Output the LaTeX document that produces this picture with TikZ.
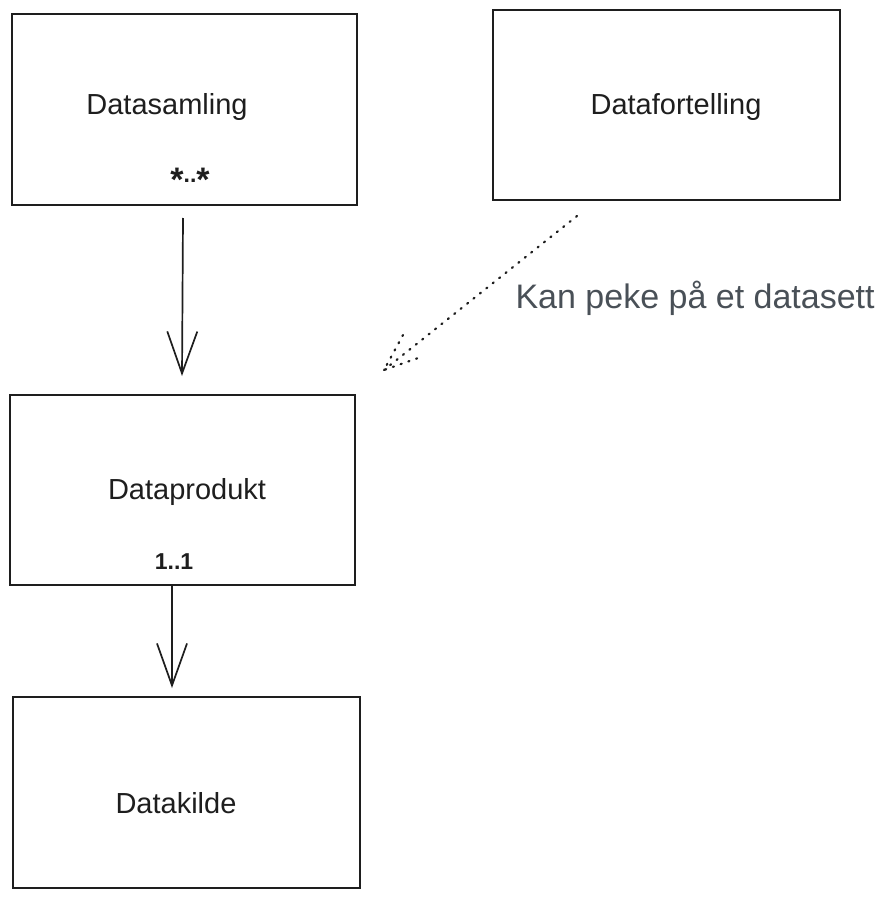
\documentclass[tikz,border=0pt]{standalone}
\usepackage{fontspec}
\setmainfont{Liberation Sans}
\usetikzlibrary{arrows.meta}
\definecolor{ink}{HTML}{1E1E1E}
\definecolor{note}{HTML}{495057}
\newcommand{\bigstar}{{\fontsize{34}{34}\selectfont\raisebox{-9pt}{*}}}
\tikzset{
  entity/.style={draw=ink, line width=1.5pt, inner sep=0pt},
  entitytext/.style={font=\fontsize{29}{34}\selectfont, text=ink},
  multiplicity/.style={font=\bfseries\fontsize{23}{27}\selectfont, text=ink},
  link/.style={draw=ink, line width=1.7pt, -{Straight Barb[length=42pt,width=30pt,line width=1.7pt]}},
  hint/.style={draw=ink, line width=2.2pt, dash pattern=on 1.2pt off 7pt, line cap=round},
  notetext/.style={font=\fontsize{34}{40}\selectfont, text=note}
}
\begin{document}
\begin{tikzpicture}[x=1pt,y=-1pt]
  \useasboundingbox (0,0) rectangle (882,904);

  % entity boxes
  \draw[entity] (12,14) rectangle (357,205);
  \draw[entity] (493,10) rectangle (840,200);
  \draw[entity] (10,395) rectangle (355,585);
  \draw[entity] (13,697) rectangle (360,888);

  \node[entitytext] (samling) at (167,107) {Datasamling};
  \node[entitytext] (fortelling) at (676,107) {Datafortelling};
  \node[entitytext] (produkt) at (187,492) {Dataprodukt};
  \node[entitytext] (kilde) at (176,803) {Datakilde};

  \node[multiplicity] (mangemange) at (190,180) {\bigstar..\bigstar};
  \node[multiplicity] (enen) at (174,562) {1..1};

  % anchors on the box edges
  \coordinate (samlingS) at (183,218);
  \coordinate (produktN) at (182,376);
  \coordinate (produktS) at (172,586);
  \coordinate (kildeN) at (172,688);

  \draw[link] (samlingS) -- (produktN);
  \draw[link] (produktS) -- (kildeN);

  % dotted reference from the story to a dataset
  \coordinate (fortellingS) at (577,216);
  \coordinate (pekTip) at (384,370);
  \coordinate (barbA) at (403,335);
  \coordinate (barbB) at (421,357);
  \draw[hint] (fortellingS) -- (pekTip);
  \draw[hint] (barbA) -- (pekTip) -- (barbB);

  \node[notetext, anchor=west] (peker) at (512,298) {Kan peke på et datasett};
\end{tikzpicture}
\end{document}
